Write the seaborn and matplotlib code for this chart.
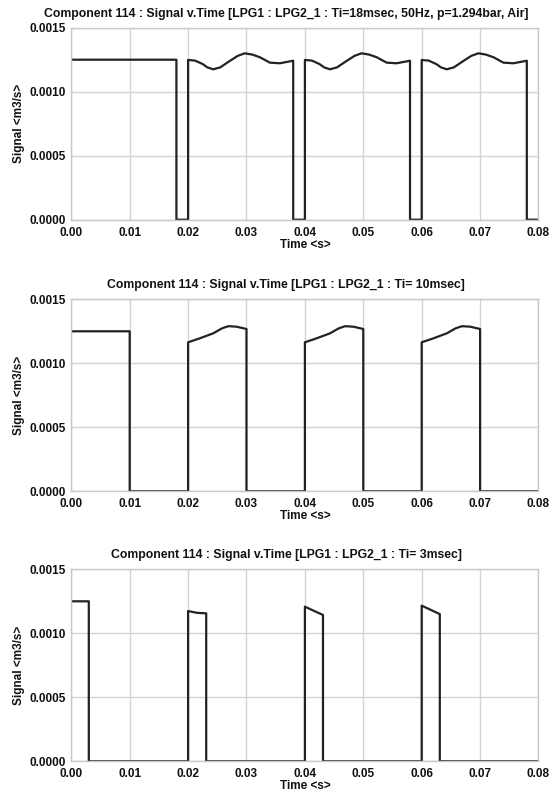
import matplotlib
matplotlib.use("Agg")
import matplotlib.pyplot as plt
from matplotlib.ticker import FormatStrFormatter, MultipleLocator
import seaborn as sns

# Ti = 18 msec, 50 Hz
t_18 = [0.0, 0.018, 0.018, 0.020, 0.020, 0.0212, 0.0225, 0.0233, 0.0243, 0.0255, 0.0272, 0.0285, 0.0297, 0.0310, 0.0323, 0.0340, 0.0357, 0.0380, 0.038,
        0.040, 0.040, 0.0412, 0.0425, 0.0433, 0.0443, 0.0455, 0.0472, 0.0485, 0.0497, 0.0510, 0.0523, 0.0540, 0.0557, 0.0580, 0.058,
        0.060, 0.060, 0.0612, 0.0625, 0.0633, 0.0643, 0.0655, 0.0672, 0.0685, 0.0697, 0.0710, 0.0723, 0.0740, 0.0757, 0.0780, 0.078, 0.080]
v_18 = [0.00125, 0.00125, 0.0, 0.0, 0.001248, 0.001243, 0.001216, 0.00119, 0.001175, 0.00119, 0.001242, 0.00128, 0.00130, 0.00129, 0.001269, 0.001227, 0.001222, 0.001242, 0.0,
        0.0, 0.001248, 0.001243, 0.001216, 0.00119, 0.001175, 0.00119, 0.001242, 0.00128, 0.00130, 0.00129, 0.001269, 0.001227, 0.001222, 0.001242, 0.0,
        0.0, 0.001248, 0.001243, 0.001216, 0.00119, 0.001175, 0.00119, 0.001242, 0.00128, 0.00130, 0.00129, 0.001269, 0.001227, 0.001222, 0.001242, 0.0, 0.0]

# Ti = 10 msec
t_10 = [0.0, 0.010, 0.010, 0.020, 0.020, 0.022, 0.0243, 0.0258, 0.0269, 0.0283, 0.0300, 0.030,
        0.040, 0.040, 0.042, 0.0443, 0.0458, 0.0469, 0.0483, 0.0500, 0.050,
        0.060, 0.060, 0.062, 0.0643, 0.0658, 0.0669, 0.0683, 0.0700, 0.070, 0.080]
v_10 = [0.00125, 0.00125, 0.0, 0.0, 0.001164, 0.001195, 0.001234, 0.001273, 0.00129, 0.001286, 0.001268, 0.0,
        0.0, 0.001164, 0.001195, 0.001234, 0.001273, 0.00129, 0.001286, 0.001268, 0.0,
        0.0, 0.001164, 0.001195, 0.001234, 0.001273, 0.00129, 0.001286, 0.001268, 0.0, 0.0]

# Ti = 3 msec
t_3 = [0.0, 0.003, 0.003, 0.020, 0.020, 0.0215, 0.0231, 0.0231,
       0.040, 0.040, 0.0431, 0.0431, 0.060, 0.060, 0.0631, 0.0631, 0.080]
v_3 = [0.00125, 0.00125, 0.0, 0.0, 0.001174, 0.00116, 0.001156, 0.0,
       0.0, 0.001208, 0.001143, 0.0, 0.0, 0.001216, 0.00115, 0.0, 0.0]

titles = ["Component 114 : Signal v.Time [LPG1 : LPG2_1 : Ti=18msec, 50Hz, p=1.294bar, Air]",
          "Component 114 : Signal v.Time [LPG1 : LPG2_1 : Ti= 10msec]",
          "Component 114 : Signal v.Time [LPG1 : LPG2_1 : Ti= 3msec]"]

sns.set_theme(style="whitegrid")
plt.rcParams['font.family'] = ['Liberation Sans', 'DejaVu Sans']
plt.rcParams['font.weight'] = 'bold'

fig = plt.figure(figsize=(5.6, 7.96), dpi=100)
bottoms = [0.7240, 0.3828, 0.0436]
series = [(t_18, v_18), (t_10, v_10), (t_3, v_3)]

for b, (t, v), title in zip(bottoms, series, titles):
    ax = fig.add_axes([0.1273, b, 0.8343, 0.2412])
    sns.lineplot(x=t, y=v, sort=False, estimator=None, ax=ax, color='#222222', linewidth=1.6)
    ax.set_xlim(0, 0.08)
    ax.set_ylim(0, 0.0015)
    ax.xaxis.set_major_locator(MultipleLocator(0.01))
    ax.yaxis.set_major_locator(MultipleLocator(0.0005))
    ax.xaxis.set_major_formatter(FormatStrFormatter('%.2f'))
    ax.yaxis.set_major_formatter(FormatStrFormatter('%.4f'))
    ax.grid(True, color='#d4d4d4', linewidth=1.0)
    for s in ax.spines.values():
        s.set_visible(True)
        s.set_color('#c8c8c8')
        s.set_linewidth(1.0)
    ax.tick_params(axis='both', labelsize=8.5, length=3, color='#c8c8c8', pad=1, labelcolor='#111111')
    ax.tick_params(axis='x', pad=2)
    for lbl in ax.get_xticklabels() + ax.get_yticklabels():
        lbl.set_fontweight('bold')
    # titles sit a bit left of the axes centre in the original
    ax.set_title(title, fontsize=8.8, fontweight='bold', color='#111111', pad=8, x=0.46)
    ax.set_xlabel("Time <s>", fontsize=8.5, fontweight='bold', color='#111111', labelpad=0)
    ax.set_ylabel("Signal <m3/s>", fontsize=8.5, fontweight='bold', color='#111111', labelpad=3)

fig.savefig("out.png", dpi=100)
